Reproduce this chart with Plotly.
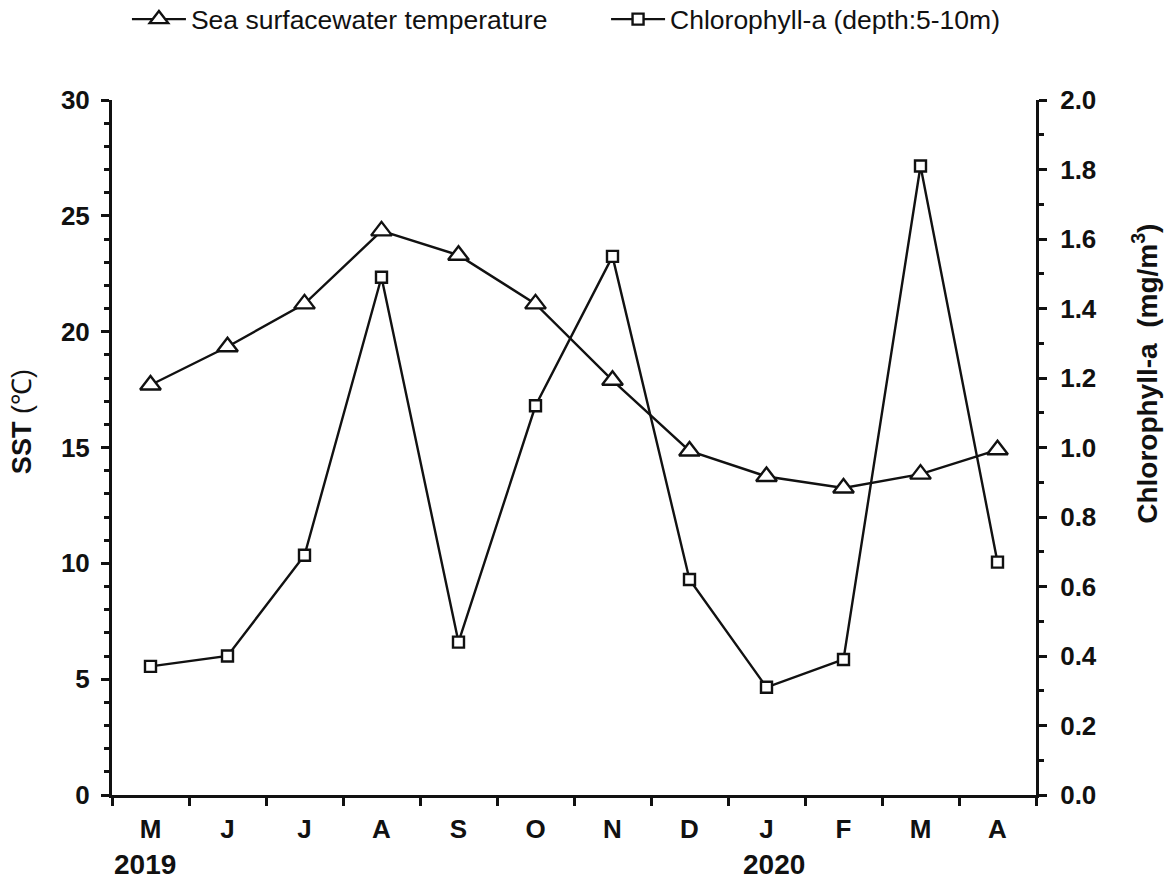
import plotly.graph_objects as go

# Monthly observations, May 2019 - April 2020
months = ["M", "J", "J", "A", "S", "O", "N", "D", "J", "F", "M", "A"]
years = {"2019": 0, "2020": 8}
sst = [17.7, 19.35, 21.2, 24.35, 23.3, 21.2, 17.9, 14.85, 13.75, 13.25, 13.85, 14.9]
chl = [0.37, 0.40, 0.69, 1.49, 0.44, 1.12, 1.55, 0.62, 0.31, 0.39, 1.81, 0.67]

x = list(range(len(months)))
FONT = "Liberation Sans, Arial, sans-serif"
INK = "#111111"

fig = go.Figure()
fig.add_trace(go.Scatter(
    x=x, y=sst, name="Sea surfacewater temperature", mode="lines+markers",
    line=dict(color=INK, width=2.4),
    marker=dict(symbol="triangle-up", size=18, color="white",
                line=dict(color=INK, width=2.4)),
    yaxis="y", legend="legend",
))
fig.add_trace(go.Scatter(
    x=x, y=chl, name="Chlorophyll-a (depth:5-10m)", mode="lines+markers",
    line=dict(color=INK, width=2.4),
    marker=dict(symbol="square", size=11, color="white",
                line=dict(color=INK, width=2.4)),
    yaxis="y2", legend="legend2",
))

legend_style = dict(
    orientation="h", xref="container", yref="container",
    xanchor="left", y=0.978, yanchor="middle",
    font=dict(family=FONT, size=26.5, color=INK),
    itemwidth=54, bgcolor="rgba(0,0,0,0)",
)

TICKFONT = dict(family=FONT, size=26, weight="bold", color=INK)

fig.update_layout(
    width=1170, height=880,
    margin=dict(l=112, r=134, t=100, b=85),
    paper_bgcolor="white", plot_bgcolor="white",
    font=dict(family=FONT, color=INK),
    showlegend=True,
    legend=dict(x=0.1085, **legend_style),
    legend2=dict(x=0.518, **legend_style),
    xaxis=dict(
        range=[-0.5, len(months) - 0.5], tickmode="array", tickvals=x,
        ticktext=months, ticks="", showgrid=False, zeroline=False,
        showline=True, linecolor=INK, linewidth=3,
        tickfont=TICKFONT, ticklabelstandoff=9,
        minor=dict(tickmode="linear", tick0=-0.5, dtick=1, ticks="outside",
                   ticklen=8, tickwidth=3, tickcolor=INK, showgrid=False),
    ),
    yaxis=dict(
        range=[0, 30], dtick=5, ticks="outside", ticklen=8, tickwidth=3,
        tickcolor=INK, showgrid=False, zeroline=False,
        showline=True, linecolor=INK, linewidth=3,
        tickfont=TICKFONT, ticklabelstandoff=6,
        minor=dict(dtick=1, ticks="outside", ticklen=5, tickwidth=3,
                   tickcolor=INK, showgrid=False),
    ),
    yaxis2=dict(
        range=[0, 2], dtick=0.2, tickformat=".1f", overlaying="y", side="right",
        ticks="outside", ticklen=8, tickwidth=3, tickcolor=INK,
        showgrid=False, zeroline=False,
        showline=True, linecolor=INK, linewidth=3,
        tickfont=TICKFONT, ticklabelstandoff=8,
        minor=dict(dtick=0.1, ticks="outside", ticklen=5, tickwidth=3,
                   tickcolor=INK, showgrid=False),
    ),
)

# Axis titles
fig.add_annotation(
    text="<b>SST</b> (℃)", textangle=-90, xref="paper", yref="paper",
    x=0, xshift=-90, y=0.5365, xanchor="center", yanchor="middle",
    showarrow=False, font=dict(family=FONT, size=27, color=INK),
)
fig.add_annotation(
    text="<b>Chlorophyll-a  (mg/m<sup>3</sup>)</b>", textangle=-90,
    xref="paper", yref="paper", x=1, xshift=109, y=0.606,
    xanchor="center", yanchor="middle",
    showarrow=False, font=dict(family=FONT, size=28, color=INK),
)

# Year markers below the month labels
for label, idx in years.items():
    fig.add_annotation(
        text=f"<b>{label}</b>", xref="x", yref="paper", x=idx, y=0,
        yshift=-69, xshift=-6 if idx == 0 else 7,
        xanchor="center", yanchor="middle", showarrow=False,
        font=dict(family=FONT, size=28, color=INK),
    )

fig.write_html("out.html")
